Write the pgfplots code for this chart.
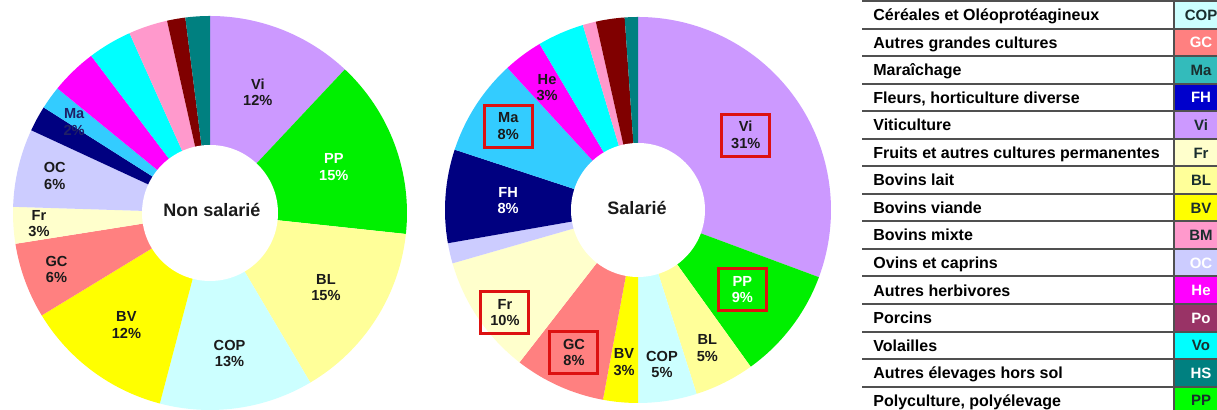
\documentclass[border=0pt]{standalone}
\usepackage{pgfplots}
\pgfplotsset{compat=1.18}
\usepackage{pgfplotstable}
\usepackage{etoolbox}
\usepackage{fontspec}
\setmainfont{Liberation Sans}

% pie colours
\definecolor{pVi}{HTML}{CC99FF}
\definecolor{pPP}{HTML}{00F000}
\definecolor{pBL}{HTML}{FFFF99}
\definecolor{pCOP}{HTML}{CCFFFF}
\definecolor{pBV}{HTML}{FFFF00}
\definecolor{pGC}{HTML}{FF8080}
\definecolor{pFr}{HTML}{FFFFCC}
\definecolor{pOC}{HTML}{CCCCFF}
\definecolor{pFH}{HTML}{000080}
\definecolor{pMa}{HTML}{33CCFF}
\definecolor{pHe}{HTML}{FF00FF}
\definecolor{pVo}{HTML}{00FFFF}
\definecolor{pBM}{HTML}{FF99CC}
\definecolor{pPo}{HTML}{800000}
\definecolor{pHS}{HTML}{008080}
\definecolor{maText}{HTML}{202066}
\definecolor{dk}{HTML}{1A1A1A}
\definecolor{boxred}{HTML}{DD1111}
% legend colours
\definecolor{lCOP}{HTML}{CCFFFF}
\definecolor{lGC}{HTML}{FF8080}
\definecolor{lMa}{HTML}{33BBBB}
\definecolor{lFH}{HTML}{0000CC}
\definecolor{lVi}{HTML}{CC99FF}
\definecolor{lFr}{HTML}{FFFFCC}
\definecolor{lBL}{HTML}{FFFF99}
\definecolor{lBV}{HTML}{FFFF00}
\definecolor{lBM}{HTML}{FF99CC}
\definecolor{lOC}{HTML}{CCCCFF}
\definecolor{lHe}{HTML}{FF00FF}
\definecolor{lPo}{HTML}{993366}
\definecolor{lVo}{HTML}{00FFFF}
\definecolor{lHS}{HTML}{008080}
\definecolor{lPP}{HTML}{00FF00}
\definecolor{ldk}{HTML}{1A2E2E}
\definecolor{linegray}{HTML}{505050}

\newcommand\pielabfont{\fontsize{7.3}{8.3}\selectfont\bfseries}
\newcommand\titfont{\fontsize{9}{10}\selectfont\bfseries}
\newcommand\legfont{\fontsize{8}{9}\selectfont\bfseries}
\newcommand\codefont{\fontsize{7.5}{8.5}\selectfont\bfseries}

% Non salarie (clockwise from top)
\pgfplotstableread{
name pct  col  lr   da  show box tcol
Vi   12.0 pVi  0.66 0   1    0   dk
PP   14.7 pPP  0.67 0   1    0   white
BL   14.8 pBL  0.70 0   1    0   dk
COP  12.6 pCOP 0.72 0   1    0   dk
BV   12.2 pBV  0.71 0   1    0   dk
GC   6.2  pGC  0.83 0   1    0   dk
Fr   3.0  pFr  0.87 0   1    0   dk
OC   6.4  pOC  0.81 0   1    0   dk
FH   2.1  pFH  0.80 0   0    0   white
Ma   1.9  pMa  0.83 -2  1    0   maText
He   3.8  pHe  0.80 0   0    0   dk
Vo   3.6  pVo  0.80 0   0    0   dk
BM   3.2  pBM  0.80 0   0    0   dk
Po   1.5  pPo  0.80 0   0    0   dk
HS   2.0  pHS  0.80 0   0    0   dk
}\tabNS

% Salarie (clockwise from top)
\pgfplotstableread{
name pct  col  lr   da   show box tcol
Vi   30.6 pVi  0.68 0    1    1   dk
PP   9.4  pPP  0.68 0    1    1   white
BL   5.0  pBL  0.80 0    1    0   dk
COP  4.9  pCOP 0.81 0    1    0   dk
BV   2.9  pBV  0.79 0    1    0   dk
GC   7.6  pGC  0.81 0    1    1   dk
Fr   10.0 pFr  0.87 -3.5 1    1   dk
OC   1.7  pOC  0.80 0    0    0   dk
FH   7.8  pFH  0.675 0   1    0   white
Ma   8.1  pMa  0.80 0    1    1   dk
He   3.3  pHe  0.79 0    1    0   dk
Vo   3.9  pVo  0.80 0    0    0   dk
BM   1.1  pBM  0.80 0    0    0   dk
Po   2.4  pPo  0.80 0    0    0   dk
HS   1.1  pHS  0.80 0    0    0   dk
}\tabS

% #1 table, #2 cx, #3 cy, #4 outer radius (px), #5 output macro
\newcommand\buildpie[5]{%
  \gdef#5{}%
  \pgfplotstablegetrowsof{#1}%
  \pgfmathtruncatemacro\nrows{\pgfplotsretval-1}%
  \def\tot{0}%
  \pgfplotsforeachungrouped \i in {0,...,\nrows}{%
    \pgfplotstablegetelem{\i}{pct}\of{#1}%
    \pgfmathsetmacro\tot{\tot+\pgfplotsretval}}%
  \def\cum{0}%
  \pgfmathsetmacro\slrad{#4*0.5}%
  \pgfplotsforeachungrouped \i in {0,...,\nrows}{%
    \pgfplotstablegetelem{\i}{pct}\of{#1}\let\slp\pgfplotsretval
    \pgfplotstablegetelem{\i}{col}\of{#1}\let\slcol\pgfplotsretval
    \pgfplotstablegetelem{\i}{name}\of{#1}\let\slname\pgfplotsretval
    \pgfplotstablegetelem{\i}{lr}\of{#1}\let\sllr\pgfplotsretval
    \pgfplotstablegetelem{\i}{da}\of{#1}\let\slda\pgfplotsretval
    \pgfplotstablegetelem{\i}{show}\of{#1}\let\slshow\pgfplotsretval
    \pgfplotstablegetelem{\i}{box}\of{#1}\let\slbox\pgfplotsretval
    \pgfplotstablegetelem{\i}{tcol}\of{#1}\let\sltcol\pgfplotsretval
    \pgfmathsetmacro\sla{90-\cum/\tot*360}%
    \pgfmathsetmacro\slm{90-(\cum+\slp/2)/\tot*360-\slda}%
    \pgfmathsetmacro\cum{\cum+\slp}%
    \pgfmathsetmacro\slb{90-\cum/\tot*360}%
    \xappto#5{\noexpand\fill[\slcol] (axis cs:#2,#3) -- ++(\sla:\slrad pt) arc[start angle=\sla, end angle=\slb, radius=\slrad pt] -- cycle;}%
    \ifnum\slshow=1
      \pgfmathsetmacro\lx{#2+\sllr*#4*cos(\slm)}%
      \pgfmathsetmacro\ly{#3+\sllr*#4*sin(\slm)}%
      \pgfmathtruncatemacro\lab{round(\slp)}%
      \ifnum\slbox=1 \def\boxopt{,draw=boxred,line width=1.5pt,minimum width=24pt,minimum height=21pt}\else\def\boxopt{}\fi
      \xappto#5{\noexpand\node[font=\noexpand\pielabfont, text=\sltcol, align=center, inner sep=1pt\boxopt] at (axis cs:\lx,\ly) {\slname\noexpand\\\lab\noexpand\%};}%
    \fi
  }%
}

\buildpie{\tabNS}{210}{197}{197}{\pieNS}
\buildpie{\tabS}{638}{200}{193}{\pieS}

\begin{document}
\begin{tikzpicture}[x=0.5pt,y=0.5pt]
\path[use as bounding box] (0,0) rectangle (1217,410);
\clip (0,0) rectangle (1217,410);
\fill[white] (0,0) rectangle (1217,410);
\begin{axis}[
  at={(0,0)}, anchor=south west,
  width=608.5pt, height=205pt, scale only axis,
  xmin=0, xmax=1217, ymin=0, ymax=410,
  hide axis, clip=false,
]
\pieNS
\fill[white] (axis cs:210,197) circle[radius=34pt];
\node[font=\titfont, text=dk] at (axis cs:212,200) {Non salarié};
\pieS
\fill[white] (axis cs:638,200) circle[radius=33.5pt];
\node[font=\titfont, text=dk] at (axis cs:637,202) {Salarié};
\end{axis}

% legend table
\foreach \t/\code/\fc/\tc [count=\k from 0] in {
  Céréales et Oléoprotéagineux/COP/lCOP/ldk,
  Autres grandes cultures/GC/lGC/white,
  Maraîchage/Ma/lMa/ldk,
  {Fleurs, horticulture diverse}/FH/lFH/white,
  Viticulture/Vi/lVi/ldk,
  Fruits et autres cultures permanentes/Fr/lFr/ldk,
  Bovins lait/BL/lBL/ldk,
  Bovins viande/BV/lBV/ldk,
  Bovins mixte/BM/lBM/ldk,
  Ovins et caprins/OC/lOC/white,
  Autres herbivores/He/lHe/white,
  Porcins/Po/lPo/white,
  Volailles/Vo/lVo/ldk,
  Autres élevages hors sol/HS/lHS/white,
  {Polyculture, polyélevage}/PP/lPP/ldk}{
  \fill[\fc] (1174,{410-(1+27.55*\k)}) rectangle (1217,{410-(1+27.55*(\k+1))});
  \node[anchor=base west, font=\legfont, text=black, inner sep=0pt] at (873,{410-(20.6+27.55*\k)}) {\t};
  \node[anchor=base, font=\codefont, text=\tc, inner sep=0pt] at (1201,{410-(20.3+27.55*\k)}) {\code};
}
\foreach \k in {0,...,15}{
  \draw[linegray, line width=1pt] (862,{410-(1+27.55*\k)}) -- (1217,{410-(1+27.55*\k)});
}
\draw[linegray, line width=1pt] (1174,410) -- (1174,0);
\end{tikzpicture}
\end{document}
